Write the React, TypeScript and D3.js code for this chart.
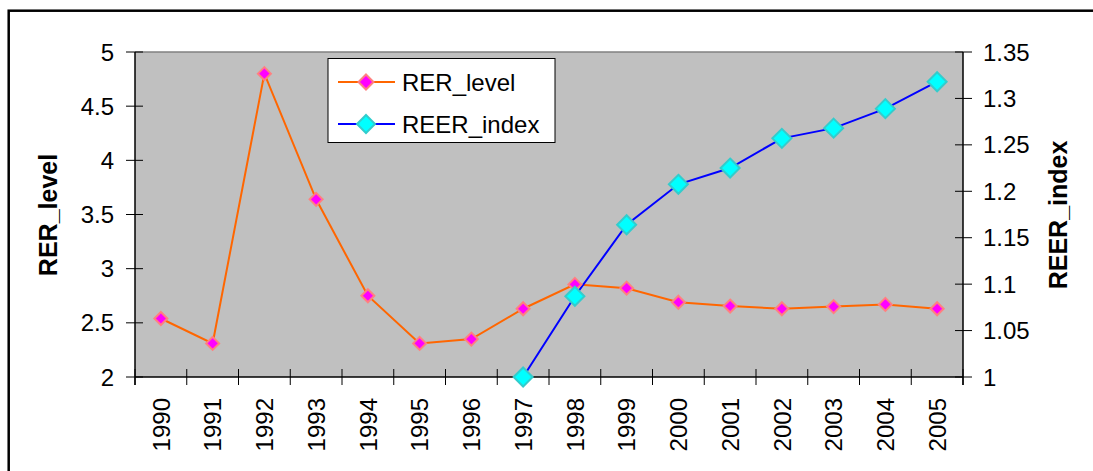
import * as d3 from 'd3'

const YEARS = ['1990', '1991', '1992', '1993', '1994', '1995', '1996', '1997',
  '1998', '1999', '2000', '2001', '2002', '2003', '2004', '2005']

const RER_LEVEL = [2.54, 2.31, 4.80, 3.64, 2.75, 2.31, 2.35, 2.63,
  2.855, 2.82, 2.69, 2.655, 2.63, 2.65, 2.67, 2.63]

const REER_INDEX: (number | null)[] = [null, null, null, null, null, null, null, 1.0,
  1.087, 1.164, 1.2075, 1.225, 1.257, 1.268, 1.289, 1.318]

const LEFT_TICKS = [2, 2.5, 3, 3.5, 4, 4.5, 5]
const RIGHT_TICKS = [1, 1.05, 1.1, 1.15, 1.2, 1.25, 1.3, 1.35]

const W = 1093
const H = 471
const plot = { left: 135, right: 963, top: 52, bottom: 377 }
const FONT = '"Liberation Sans", Arial, sans-serif'
const TICK_FS = 24

const diamond = (cx: number, cy: number, r: number) =>
  `M${cx},${cy - r}L${cx + r},${cy}L${cx},${cy + r}L${cx - r},${cy}Z`

export default function App() {
  const x = d3.scaleBand<string>().domain(YEARS).range([plot.left, plot.right])
  const yL = d3.scaleLinear().domain([2, 5]).range([plot.bottom, plot.top])
  const yR = d3.scaleLinear().domain([1, 1.35]).range([plot.bottom, plot.top])
  const cx = (yr: string) => (x(yr) ?? 0) + x.bandwidth() / 2

  const rerPts = YEARS.map((yr, i) => ({ yr, v: RER_LEVEL[i] }))
  const reerPts = YEARS.map((yr, i) => ({ yr, v: REER_INDEX[i] }))
    .filter(d => d.v !== null) as { yr: string; v: number }[]

  const rerLine = d3.line<{ yr: string; v: number }>().x(d => cx(d.yr)).y(d => yL(d.v))
  const reerLine = d3.line<{ yr: string; v: number }>().x(d => cx(d.yr)).y(d => yR(d.v))

  const fmt = (v: number) => String(+v.toFixed(2))
  const bounds = [...YEARS.map(yr => x(yr) ?? 0), plot.right]

  return (
    <svg width={W} height={H} style={{ position: 'absolute', left: 0, top: 0, display: 'block' }}
      fontFamily={FONT}>
      <rect x={0} y={0} width={W} height={H} fill="#fff" />
      {/* outer chart frame (runs off the picture right and bottom) */}
      <rect x={8.7} y={10.7} width={W + 20} height={H + 20} fill="none" stroke="#000" strokeWidth={2.5} />

      {/* plot area */}
      <rect x={plot.left} y={plot.top} width={plot.right - plot.left} height={plot.bottom - plot.top}
        fill="#C0C0C0" />
      <line x1={plot.left} x2={plot.right} y1={plot.top} y2={plot.top} stroke="#808080" strokeWidth={1.5} />

      {/* left axis */}
      <line x1={plot.left} x2={plot.left} y1={plot.top} y2={plot.bottom + 8} stroke="#000" strokeWidth={1.5} />
      {LEFT_TICKS.map(t => (
        <g key={'l' + t}>
          <line x1={plot.left - 9} x2={plot.left + 8} y1={yL(t)} y2={yL(t)} stroke="#000" strokeWidth={1} />
          <text x={114} y={yL(t)} dy="0.36em" textAnchor="end" fontSize={TICK_FS}>{fmt(t)}</text>
        </g>
      ))}

      {/* right axis */}
      <line x1={plot.right} x2={plot.right} y1={plot.top} y2={plot.bottom + 8} stroke="#000" strokeWidth={1.5} />
      {RIGHT_TICKS.map(t => (
        <g key={'r' + t}>
          <line x1={plot.right - 8} x2={plot.right + 9} y1={yR(t)} y2={yR(t)} stroke="#000" strokeWidth={1} />
          <text x={983} y={yR(t)} dy="0.36em" textAnchor="start" fontSize={TICK_FS}>{fmt(t)}</text>
        </g>
      ))}

      {/* x axis */}
      <line x1={plot.left} x2={plot.right} y1={plot.bottom} y2={plot.bottom} stroke="#000" strokeWidth={1.5} />
      {bounds.map((b, i) => (
        <line key={'xt' + i} x1={b} x2={b} y1={plot.bottom - 8} y2={plot.bottom + 8} stroke="#000" strokeWidth={1} />
      ))}
      {YEARS.map(yr => (
        <text key={'xl' + yr} transform={`translate(${cx(yr)},398) rotate(-90)`} dy="0.36em"
          textAnchor="end" fontSize={TICK_FS}>{yr}</text>
      ))}

      {/* axis titles */}
      <text transform="translate(48,215) rotate(-90)" dy="0.36em" textAnchor="middle"
        fontSize={25} fontWeight="bold">RER_level</text>
      <text transform="translate(1058,215) rotate(-90)" dy="0.36em" textAnchor="middle"
        fontSize={25} fontWeight="bold">REER_index</text>

      {/* series */}
      <path d={rerLine(rerPts) ?? ''} fill="none" stroke="#FF6600" strokeWidth={2} />
      <path d={reerLine(reerPts) ?? ''} fill="none" stroke="#0000FF" strokeWidth={2} />
      {rerPts.map(d => (
        <path key={'m' + d.yr} d={diamond(cx(d.yr), yL(d.v), 6.5)} fill="#FF00FF" stroke="#FF8080" strokeWidth={2} />
      ))}
      {reerPts.map(d => (
        <path key={'c' + d.yr} d={diamond(cx(d.yr), yR(d.v), 9.5)} fill="#00FFFF" stroke="#33CCCC" strokeWidth={2} />
      ))}

      {/* legend */}
      <rect x={328} y={58.5} width={227} height={84} fill="#fff" stroke="#000" strokeWidth={1} />
      <line x1={338} x2={395} y1={82} y2={82} stroke="#FF6600" strokeWidth={2} />
      <path d={diamond(366, 82, 7.5)} fill="#FF00FF" stroke="#FF8080" strokeWidth={2} />
      <text x={402} y={82} dy="0.36em" fontSize={24}>RER_level</text>
      <line x1={338} x2={395} y1={124} y2={124} stroke="#0000FF" strokeWidth={2} />
      <path d={diamond(366, 124, 9)} fill="#00FFFF" stroke="#33CCCC" strokeWidth={2} />
      <text x={402} y={124} dy="0.36em" fontSize={24}>REER_index</text>
    </svg>
  )
}
